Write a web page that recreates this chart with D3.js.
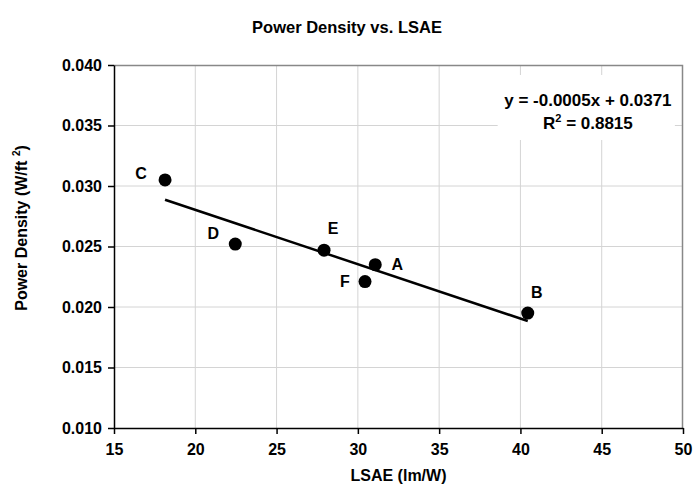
<!DOCTYPE html>
<meta charset="UTF-8">
<style>
  body { margin: 0; background: #fff; }
  svg { display: block; font-family: "Liberation Sans", Arial, sans-serif; font-weight: bold; }
  .grid line { stroke: #d4d4d4; stroke-width: 1px; }
  .axis path, .axis line { stroke: #000; stroke-width: 1.5px; }
  .axis text { font-size: 16px; font-weight: bold; fill: #000; font-family: "Liberation Sans", Arial, sans-serif; }
</style>
<body>
<script src="https://cdn.jsdelivr.net/npm/d3@7"></script>
<script>
  // data
  var names = ["A", "B", "C", "D", "E", "F"];
  var lsae = [31.07, 40.45, 18.14, 22.46, 27.92, 30.44];
  var density = [0.0235, 0.0195, 0.0305, 0.0252, 0.0247, 0.0221];
  var xTicks = [15, 20, 25, 30, 35, 40, 45, 50];
  var yTicks = [0.010, 0.015, 0.020, 0.025, 0.030, 0.035, 0.040];
  var eqText = "y = -0.0005x + 0.0371";
  var r2Value = "0.8815";

  var W = 694, H = 489;
  var margin = { top: 65, right: 11, bottom: 61, left: 114 };
  var width = W - margin.left - margin.right,
    height = H - margin.top - margin.bottom;

  var svg = d3.select("body").append("svg")
    .attr("width", W)
    .attr("height", H);

  var g = svg.append("g")
    .attr("transform", "translate(" + margin.left + "," + margin.top + ")");

  var x = d3.scaleLinear().domain([15, 50]).range([0, width]);
  var y = d3.scaleLinear().domain([0.010, 0.040]).range([height, 0]);

  // gridlines
  var grid = g.append("g").attr("class", "grid");
  grid.selectAll("line.v")
    .data(xTicks.slice(1, -1))
    .enter().append("line")
    .attr("x1", function(d) { return x(d); })
    .attr("x2", function(d) { return x(d); })
    .attr("y1", 0).attr("y2", height);
  grid.selectAll("line.h")
    .data(yTicks.slice(1, -1))
    .enter().append("line")
    .attr("x1", 0).attr("x2", width)
    .attr("y1", function(d) { return y(d); })
    .attr("y2", function(d) { return y(d); });

  // top and right border
  g.append("path")
    .attr("d", "M0,0.5H" + (width - 0.5) + "V" + height)
    .attr("fill", "none")
    .attr("stroke", "#888")
    .attr("stroke-width", 1.5);

  // equation box covers the grid
  g.append("rect")
    .attr("x", x(38.6)).attr("y", 10)
    .attr("width", x(49.5) - x(38.6)).attr("height", 65)
    .attr("fill", "#fff");

  // axes
  g.append("g")
    .attr("class", "axis")
    .attr("transform", "translate(0," + height + ")")
    .call(d3.axisBottom(x).tickValues(xTicks).tickSize(6).tickPadding(6).tickSizeOuter(0))
    .selectAll("text").attr("dy", "0.95em");

  g.append("g")
    .attr("class", "axis")
    .call(d3.axisLeft(y).tickValues(yTicks).tickFormat(d3.format(".3f")).tickSize(6).tickPadding(6).tickSizeOuter(0));

  // linear fit from the points
  var mx = d3.mean(lsae),
    my = d3.mean(density);
  var sxy = d3.sum(lsae, function(v, i) { return (v - mx) * (density[i] - my); }),
    sxx = d3.sum(lsae, function(v) { return (v - mx) * (v - mx); });
  var slope = sxy / sxx,
    icpt = my - slope * mx;
  var xr = d3.extent(lsae);

  g.append("line")
    .attr("x1", x(xr[0])).attr("y1", y(slope * xr[0] + icpt))
    .attr("x2", x(xr[1])).attr("y2", y(slope * xr[1] + icpt))
    .attr("stroke", "#000")
    .attr("stroke-width", 2.5);

  // points
  var pts = names.map(function(nm, i) { return { name: nm, x: lsae[i], y: density[i] }; });

  g.selectAll("circle.pt")
    .data(pts)
    .enter().append("circle")
    .attr("class", "pt")
    .attr("cx", function(d) { return x(d.x); })
    .attr("cy", function(d) { return y(d.y); })
    .attr("r", 6.5)
    .attr("fill", "#000");

  // label offsets (pixels from the point)
  var labelOff = {
    A: [22, 0], B: [9, -21], C: [-24, -7], D: [-22, -11], E: [9, -22], F: [-20, 0]
  };

  g.selectAll("text.lbl")
    .data(pts)
    .enter().append("text")
    .attr("class", "lbl")
    .attr("x", function(d) { return x(d.x) + labelOff[d.name][0]; })
    .attr("y", function(d) { return y(d.y) + labelOff[d.name][1]; })
    .attr("dy", "0.36em")
    .attr("text-anchor", "middle")
    .attr("font-size", 16)
    .text(function(d) { return d.name; });

  // equation
  g.append("text")
    .attr("x", x(44.15)).attr("y", 41)
    .attr("text-anchor", "middle")
    .attr("font-size", 17)
    .text(eqText);

  var r2 = g.append("text")
    .attr("x", x(44.15)).attr("y", 64)
    .attr("text-anchor", "middle")
    .attr("font-size", 17);
  r2.append("tspan").text("R");
  r2.append("tspan").attr("dy", -7).attr("font-size", 11).text("2");
  r2.append("tspan").attr("dy", 7).text(" = " + r2Value);

  // title
  svg.append("text")
    .attr("x", 347)
    .attr("y", 33)
    .attr("text-anchor", "middle")
    .attr("font-size", 16.5)
    .text("Power Density vs. LSAE");

  // x axis title
  svg.append("text")
    .attr("x", margin.left + width / 2)
    .attr("y", 481)
    .attr("text-anchor", "middle")
    .attr("font-size", 16)
    .text("LSAE (lm/W)");

  // y axis title
  var yt = svg.append("text")
    .attr("transform", "translate(27," + 228 + ") rotate(-90)")
    .attr("text-anchor", "middle")
    .attr("font-size", 16);
  yt.append("tspan").text("Power Density (W/ft ");
  yt.append("tspan").attr("dy", -7).attr("font-size", 10).text("2");
  yt.append("tspan").attr("dy", 7).text(")");
</script>
</body>
